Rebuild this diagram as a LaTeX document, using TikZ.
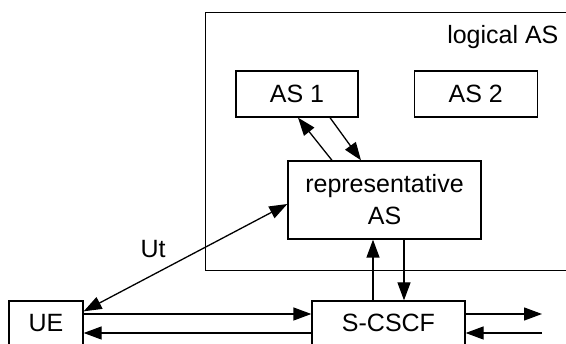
\documentclass[tikz,border=0pt]{standalone}
\usepackage{fontspec}
\setmainfont{Liberation Sans}
\usetikzlibrary{positioning,arrows.meta}
\tikzstyle{block} = [rectangle, draw=black, line width=1.3pt, text centered, inner sep=0pt, font=\fontsize{25}{32}\selectfont]
\tikzstyle{line} = [draw, line width=1.3pt, -{Triangle[length=18pt,width=13pt]}]
\tikzstyle{dline} = [line, {Triangle[length=18pt,width=13pt]}-{Triangle[length=18pt,width=13pt]}]

\begin{document}
\begin{tikzpicture}[x=1pt, y=-1pt]
				\useasboundingbox (0,0) rectangle (566,344);
				% Place nodes
				\node [block, minimum width=380pt, minimum height=258pt, anchor=north west] (logical) at (205,12) {};
				\node [anchor=east, font=\fontsize{25}{30}\selectfont] (logtext) at (562,37) {logical AS};
				\node [block, minimum width=122pt, minimum height=46pt] (as1) at (297,94) {AS 1};
				\node [block, minimum width=123pt, minimum height=46pt, right = 55pt of as1] (as2) {AS 2};
				\node [block, minimum width=193pt, minimum height=78pt, align=center] (rep) at (384.5,200) {representative\\AS};
				\node [block, minimum width=74pt, minimum height=44pt] (ue) at (46,323) {UE};
				\node [block, minimum width=153pt, minimum height=44pt] (scscf) at (388.5,323) {S-CSCF};
				\node [font=\fontsize{25}{30}\selectfont] (ut) at (153,249) {Ut};
				\coordinate (outend) at (542,314);
				\coordinate (inend) at (542,333);
				% Connectors
				\path [line] ([xshift=-52.5pt]rep.north) -- ([xshift=1pt]as1.south);
				\path [line] ([xshift=33pt]as1.south) -- ([xshift=-23.5pt]rep.north);
				\path [dline] ([yshift=-11pt]ue.north east) -- ([yshift=-4pt]rep.west);
				\path [line] ([yshift=9pt]ue.east) -- ([yshift=9pt]scscf.west);
				\path [line] ([yshift=-10pt]scscf.west) -- ([yshift=-10pt]ue.east);
				\path [line] ([xshift=-15.5pt]scscf.north) -- ([xshift=-15.5pt]scscf.north |- rep.south);
				\path [line] ([xshift=15.5pt]scscf.north |- rep.south) -- ([xshift=15.5pt]scscf.north);
				\path [line] ([yshift=9pt]scscf.east) -- (outend);
				\path [line] (inend) -- ([yshift=-10pt]scscf.east);
\end{tikzpicture}
\end{document}
